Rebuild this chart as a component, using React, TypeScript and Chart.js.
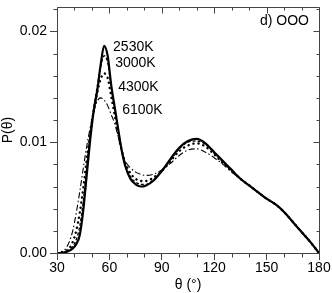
import React, { useEffect, useRef } from "react";
import { Chart, registerables } from "chart.js";

Chart.register(...registerables);

const THETA = [30, 33, 35, 37, 39, 41, 43, 45, 47, 49, 51, 53, 55, 57, 59, 61, 63, 65, 67, 69, 72, 75, 78, 81, 85, 90, 95, 100, 105, 110, 115, 120, 125, 130, 135, 140, 145, 150, 155, 160, 165, 170, 175, 180];

const P_2530K = [0, 0, 0.0001, 0.0002, 0.0004, 0.0008, 0.0016, 0.0038, 0.0070, 0.0102, 0.0128, 0.0146, 0.0170, 0.0187, 0.0178, 0.0152, 0.0132, 0.0112, 0.0093, 0.0079, 0.0067, 0.0062, 0.0060, 0.0061, 0.0065, 0.0074, 0.0085, 0.0095, 0.0101, 0.0103, 0.0099, 0.0091, 0.0083, 0.0075, 0.0067, 0.0061, 0.0055, 0.0049, 0.0044, 0.0037, 0.0028, 0.0019, 0.0010, 0];
const P_3000K = [0, 0, 0.0001, 0.0003, 0.0006, 0.0012, 0.0024, 0.0046, 0.0077, 0.0107, 0.0131, 0.0150, 0.0168, 0.0178, 0.0172, 0.0150, 0.0130, 0.0111, 0.0093, 0.0080, 0.0069, 0.0064, 0.0062, 0.0062, 0.0066, 0.0074, 0.0084, 0.0094, 0.0100, 0.0101, 0.0098, 0.0090, 0.0082, 0.0074, 0.0067, 0.0061, 0.0055, 0.0049, 0.0044, 0.0037, 0.0028, 0.0019, 0.0010, 0];
const P_4300K = [0, 0.0001, 0.0002, 0.0004, 0.0010, 0.0020, 0.0036, 0.0058, 0.0084, 0.0108, 0.0128, 0.0145, 0.0157, 0.0162, 0.0158, 0.0142, 0.0125, 0.0108, 0.0093, 0.0082, 0.0072, 0.0067, 0.0065, 0.0065, 0.0068, 0.0074, 0.0083, 0.0092, 0.0097, 0.0099, 0.0096, 0.0089, 0.0081, 0.0074, 0.0067, 0.0061, 0.0055, 0.0049, 0.0044, 0.0037, 0.0028, 0.0019, 0.0010, 0];
const P_6100K = [0, 0.0001, 0.0004, 0.0010, 0.0020, 0.0036, 0.0055, 0.0076, 0.0096, 0.0113, 0.0127, 0.0137, 0.0140, 0.0138, 0.0133, 0.0125, 0.0117, 0.0105, 0.0092, 0.0083, 0.0077, 0.0073, 0.0071, 0.0070, 0.0071, 0.0075, 0.0081, 0.0088, 0.0093, 0.0094, 0.0091, 0.0086, 0.0080, 0.0073, 0.0067, 0.0061, 0.0055, 0.0049, 0.0044, 0.0037, 0.0028, 0.0019, 0.0010, 0];

const SERIES_LABELS = ["2530K", "3000K", "4300K", "6100K"];
const LABEL_THETA = [62.1, 63.3, 65.0, 67.3];
const LABEL_P = [0.01856, 0.01712, 0.01495, 0.01288];
const PANEL_LABEL = "d) OOO";

const X_TICKS = [30, 60, 90, 120, 150, 180];
const Y_TICKS = [0, 0.01, 0.02];

const FONT = "'Liberation Sans', Arial, Helvetica, sans-serif";

const toPts = (ys: number[]) => THETA.map((t, i) => ({ x: t, y: ys[i] }));

const framePlugin = {
  id: "frameTicks",
  afterDraw(chart: any) {
    const ctx = chart.ctx;
    const { left, right, top, bottom } = chart.chartArea;
    const xs = chart.scales.x;
    const ys = chart.scales.y;
    ctx.save();
    ctx.strokeStyle = "#444";
    ctx.lineWidth = 1;
    const a = (v: number) => Math.round(v) + 0.5;
    ctx.beginPath();
    ctx.rect(a(left), a(top), Math.round(right) - Math.round(left), Math.round(bottom) - Math.round(top));
    ctx.stroke();
    ctx.beginPath();
    for (let d = 30; d <= 180; d += 10) {
      const px = a(xs.getPixelForValue(d));
      const major = d % 30 === 0;
      if (!major) {
        ctx.moveTo(px, a(bottom));
        ctx.lineTo(px, a(bottom) + 4);
      }
      ctx.moveTo(px, a(top));
      ctx.lineTo(px, a(top) + (major ? 6 : 3));
    }
    for (let k = 0; k <= 11; k++) {
      const v = k * 0.002;
      const py = a(ys.getPixelForValue(v));
      const major = k % 5 === 0;
      if (!major) {
        ctx.moveTo(a(left), py);
        ctx.lineTo(a(left) - 4, py);
      }
      ctx.moveTo(a(right), py);
      ctx.lineTo(a(right) - (major ? 6 : 3), py);
    }
    ctx.stroke();

    ctx.fillStyle = "#000";
    ctx.font = `14px ${FONT}`;
    ctx.textAlign = "left";
    ctx.textBaseline = "middle";
    SERIES_LABELS.forEach((lab, i) => {
      ctx.fillText(lab, xs.getPixelForValue(LABEL_THETA[i]), ys.getPixelForValue(LABEL_P[i]));
    });
    ctx.textAlign = "right";
    ctx.fillText(PANEL_LABEL, right - 10, top + 14);

    ctx.textAlign = "center";
    ctx.fillText("θ (°)", (left + right) / 2, bottom + 32);
    ctx.save();
    ctx.translate(8, (top + bottom) / 2);
    ctx.rotate(-Math.PI / 2);
    ctx.fillText("P(θ)", 0, 0);
    ctx.restore();
    ctx.restore();
  },
};

export default function App() {
  const ref = useRef<HTMLCanvasElement | null>(null);
  useEffect(() => {
    document.body.style.margin = "0";
    const canvas = ref.current!;
    const chart = new Chart(canvas, {
      type: "line",
      data: {
        datasets: [
          { label: SERIES_LABELS[0], data: toPts(P_2530K), borderColor: "#000", borderWidth: 2.2, pointRadius: 0, cubicInterpolationMode: "monotone", fill: false },
          { label: SERIES_LABELS[1], data: toPts(P_3000K), borderColor: "#000", borderWidth: 1.3, borderDash: [3, 2], pointRadius: 0, cubicInterpolationMode: "monotone", fill: false },
          { label: SERIES_LABELS[2], data: toPts(P_4300K), borderColor: "#000", borderWidth: 2.4, borderDash: [0.1, 5], borderCapStyle: "round", pointRadius: 0, cubicInterpolationMode: "monotone", fill: false },
          { label: SERIES_LABELS[3], data: toPts(P_6100K), borderColor: "#000", borderWidth: 1.1, borderDash: [6, 2.5, 1.5, 2.5], pointRadius: 0, cubicInterpolationMode: "monotone", fill: false },
        ] as any,
      },
      options: {
        animation: false,
        responsive: false,
        devicePixelRatio: 1,
        layout: { padding: { left: 0, right: 13, top: 7, bottom: 0 } },
        plugins: { legend: { display: false }, tooltip: { enabled: false } },
        scales: {
          x: {
            type: "linear",
            min: 30,
            max: 180,
            afterFit: (s: any) => { s.height = 40; s.paddingLeft = 0; s.paddingRight = 0; },
            afterBuildTicks: (s: any) => { s.ticks = X_TICKS.map((v) => ({ value: v })); },
            ticks: { color: "#000", font: { family: FONT, size: 14 }, padding: 0, maxRotation: 0, autoSkip: false },
            grid: { drawOnChartArea: false, drawTicks: true, tickLength: 7, color: "#444" },
            border: { display: false },
          },
          y: {
            type: "linear",
            min: 0,
            max: 0.0222,
            afterFit: (s: any) => { s.width = 57; s.paddingTop = 0; s.paddingBottom = 0; },
            afterBuildTicks: (s: any) => { s.ticks = Y_TICKS.map((v) => ({ value: v })); },
            ticks: { color: "#000", font: { family: FONT, size: 14 }, padding: 3, callback: (v: any) => Number(v).toFixed(2) },
            grid: { drawOnChartArea: false, drawTicks: true, tickLength: 7, color: "#444" },
            border: { display: false },
          },
        },
      },
      plugins: [framePlugin],
    });
    return () => chart.destroy();
  }, []);
  return (
    <div style={{ width: 332, height: 293 }}>
      <canvas ref={ref} width={332} height={293} style={{ display: "block" }} />
    </div>
  );
}
